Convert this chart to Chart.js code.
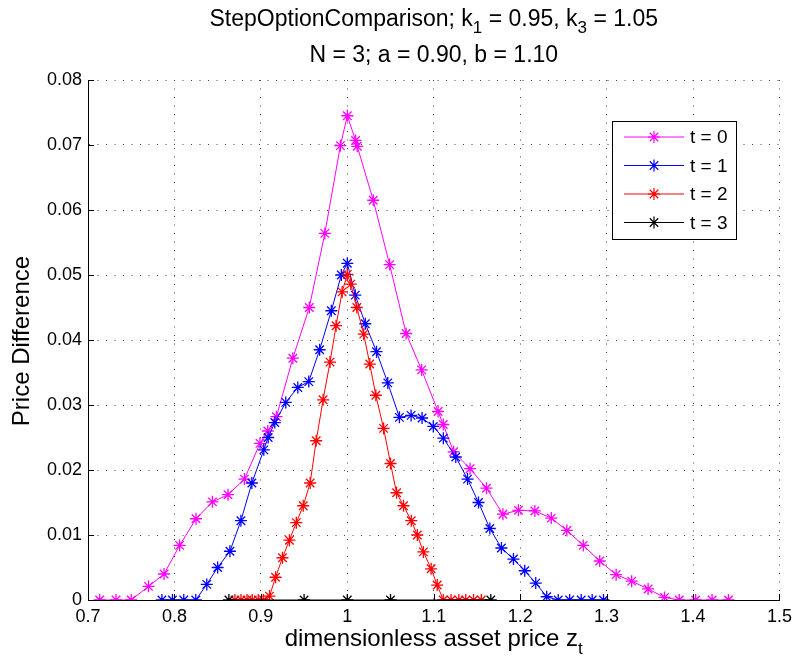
<!DOCTYPE html>
<html>
<head>
<meta charset="utf-8">
<script src="https://cdn.jsdelivr.net/npm/chart.js@4.4.1/dist/chart.umd.min.js"></script>
<style>
html,body{margin:0;padding:0;background:#fff;}
#wrap{width:798px;height:661px;position:relative;}
</style>
</head>
<body>
<div id="wrap"><canvas id="c" width="798" height="661"></canvas></div>
<script>
// ---- data ----
const seriesLabels = ['t = 0', 't = 1', 't = 2', 't = 3'];
const x0 = [0.7135,0.7324,0.750,0.770,0.788,0.806,0.825,0.844,0.862,0.881,0.899,0.908,0.918,0.937,0.956,0.974,0.992,1.0,1.0096,1.0115,1.030,1.049,1.068,1.086,1.105,1.111,1.123,1.142,1.161,1.180,1.198,1.217,1.236,1.254,1.273,1.292,1.311,1.329,1.348,1.367,1.384,1.403,1.422,1.441];
const y0 = [0,0,0,0.0021,0.0040,0.0084,0.0125,0.0151,0.0162,0.0186,0.0241,0.0260,0.0282,0.0372,0.0450,0.0564,0.0699,0.0745,0.0707,0.0698,0.0615,0.0516,0.0410,0.0354,0.0290,0.0270,0.0228,0.0202,0.0172,0.0132,0.0138,0.0137,0.0126,0.0107,0.0084,0.0060,0.0039,0.0029,0.0017,0.0004,0,0,0,0];
const x1 = [0.7855,0.7977,0.8108,0.8247,0.8374,0.850,0.8642,0.8769,0.8896,0.9034,0.9084,0.9161,0.9288,0.9427,0.9554,0.968,0.9815,0.9931,1.0,1.0092,1.0208,1.0338,1.0468,1.0603,1.0738,1.0865,1.0995,1.1111,1.1255,1.1391,1.1518,1.1649,1.1783,1.1922,1.2053,1.218,1.2307,1.244,1.2572,1.2706,1.2833,1.2964];
const y1 = [0,0,0,0,0.0024,0.0050,0.0075,0.0122,0.0180,0.0231,0.0250,0.0273,0.0304,0.0327,0.0336,0.0385,0.0445,0.0500,0.0518,0.0469,0.0425,0.0382,0.0334,0.0281,0.0284,0.0280,0.0267,0.0249,0.0220,0.0186,0.0150,0.0110,0.0080,0.0063,0.0045,0.0026,0.0005,0,0,0,0,0];
const x2 = [0.870,0.877,0.884,0.890,0.897,0.903,0.910,0.917,0.925,0.933,0.941,0.949,0.957,0.964,0.972,0.980,0.987,0.994,1.000,1.004,1.011,1.019,1.026,1.033,1.042,1.050,1.057,1.065,1.074,1.081,1.088,1.097,1.104,1.111,1.120,1.129,1.137,1.146,1.155];
const y2 = [0,0,0,0,0,0,0.0006,0.0035,0.0065,0.0092,0.0119,0.0145,0.0180,0.0245,0.0308,0.0366,0.0422,0.0474,0.0501,0.0486,0.0450,0.0409,0.0363,0.0315,0.0264,0.0210,0.0165,0.0145,0.0122,0.0100,0.0074,0.0048,0.0023,0,0,0,0,0,0];
const x3 = [0.863,0.95,1.0,1.05,1.166];
const y3 = [0,0,0,0,0];
const xTicks = [0.7,0.8,0.9,1.0,1.1,1.2,1.3,1.4,1.5];
const xTickLabels = ['0.7','0.8','0.9','1','1.1','1.2','1.3','1.4','1.5'];
const yTicks = [0,0.01,0.02,0.03,0.04,0.05,0.06,0.07,0.08];
const yTickLabels = ['0','0.01','0.02','0.03','0.04','0.05','0.06','0.07','0.08'];
const colors = ['#ff00ff','#0000ff','#ff0000','#000000'];
const titleLine1 = [['StepOptionComparison; k',0],['1',1],[' = 0.95, k',0],['3',1],[' = 1.05',0]];
const titleLine2 = [['N = 3; a = 0.90, b = 1.10',0]];
const yTitle = 'Price Difference';
const xTitle = [['dimensionless asset price z',0],['t',1]];

const FONT = '"Liberation Sans", Arial, Helvetica, sans-serif';
const xs = [x0,x1,x2,x3], ys = [y0,y1,y2,y3];
const datasets = xs.map((xa,i)=>({
  label: seriesLabels[i],
  data: xa.map((v,j)=>({x:v,y:ys[i][j]})),
  showLine: true,
  borderColor: colors[i],
  backgroundColor: colors[i],
  borderWidth: 1,
  pointStyle: 'star',
  pointRadius: 6,
  pointBorderWidth: 1.3,
  pointBorderColor: colors[i],
  order: 4 - i,
  tension: 0
}));

function drawRich(ctx, parts, cx, baseY, size){
  const subSize = Math.round(size*0.72);
  let w = 0;
  parts.forEach(p=>{ ctx.font=(p[1]?subSize:size)+'px '+FONT; w += ctx.measureText(p[0]).width; });
  let x = cx - w/2;
  ctx.textAlign='left'; ctx.textBaseline='alphabetic';
  parts.forEach(p=>{
    ctx.font=(p[1]?subSize:size)+'px '+FONT;
    ctx.fillText(p[0], x, baseY + (p[1]? size*0.32:0));
    x += ctx.measureText(p[0]).width;
  });
}

const decor = {
  id:'decor',
  afterDraw(chart){
    const ctx = chart.ctx, a = chart.chartArea;
    const sx = chart.scales.x, sy = chart.scales.y;
    ctx.save();
    // inward ticks
    ctx.strokeStyle='#000'; ctx.lineWidth=1;
    xTicks.forEach(v=>{ const px=Math.round(sx.getPixelForValue(v))+0.5; ctx.beginPath(); ctx.moveTo(px,a.bottom); ctx.lineTo(px,a.bottom-6); ctx.stroke(); });
    yTicks.forEach(v=>{ const py=Math.round(sy.getPixelForValue(v))+0.5; ctx.beginPath(); ctx.moveTo(a.left,py); ctx.lineTo(a.left+6,py); ctx.stroke(); });
    // titles
    ctx.fillStyle='#000';
    const cx = (a.left+a.right)/2;
    drawRich(ctx, titleLine1, cx, 26, 23);
    drawRich(ctx, titleLine2, cx, 62, 23);
    drawRich(ctx, xTitle, cx, 646, 24);
    ctx.save();
    ctx.translate(29, (a.top+a.bottom)/2+1);
    ctx.rotate(-Math.PI/2);
    drawRich(ctx, [[yTitle,0]], 0, 0, 24);
    ctx.restore();
    // legend
    const L=612, T=121, W=124, H=118;
    ctx.fillStyle='#fff'; ctx.fillRect(L,T,W,H);
    ctx.strokeStyle='#000'; ctx.lineWidth=1; ctx.strokeRect(L+0.5,T+0.5,W,H);
    seriesLabels.forEach((lab,i)=>{
      const yy = T + 16 + i*28.5;
      ctx.strokeStyle=colors[i]; ctx.lineWidth=1;
      ctx.beginPath(); ctx.moveTo(624,yy); ctx.lineTo(684,yy); ctx.stroke();
      const r=6, cxp=654;
      ctx.lineWidth=1.2;
      ctx.beginPath();
      for(let k=0;k<4;k++){ const ang=k*Math.PI/4; ctx.moveTo(cxp+r*Math.cos(ang),yy+r*Math.sin(ang)); ctx.lineTo(cxp-r*Math.cos(ang),yy-r*Math.sin(ang)); }
      ctx.stroke();
      ctx.fillStyle='#000'; ctx.font='19px '+FONT; ctx.textAlign='left'; ctx.textBaseline='middle';
      ctx.fillText(lab, 690, yy+1);
    });
    ctx.restore();
  }
};

new Chart(document.getElementById('c'), {
  type:'scatter',
  data:{datasets},
  options:{
    responsive:false, animation:false, devicePixelRatio:1,
    layout:{padding:{left:0,top:80,right:17,bottom:0}},
    plugins:{legend:{display:false}, title:{display:false}, tooltip:{enabled:false}},
    scales:{
      x:{
        type:'linear', min:0.7, max:1.5,
        afterBuildTicks(s){ s.ticks = xTicks.map(v=>({value:v})); },
        afterFit(s){ s.height = 61; },
        ticks:{ callback:(v,i)=>xTickLabels[i], color:'#000', font:{family:FONT,size:18}, padding:6, maxRotation:0, autoSkip:false },
        grid:{ color:'#444', lineWidth:1, drawTicks:false },
        border:{ display:true, color:'#000', width:1, dash:[1,7.5] }
      },
      y:{
        type:'linear', min:0, max:0.08,
        afterBuildTicks(s){ s.ticks = yTicks.map(v=>({value:v})); },
        afterFit(s){ s.width = 88; },
        ticks:{ callback:(v,i)=>yTickLabels[i], color:'#000', font:{family:FONT,size:18}, padding:6 },
        grid:{ color:'#444', lineWidth:1, drawTicks:false },
        border:{ display:true, color:'#000', width:1, dash:[1,7.5] }
      }
    }
  },
  plugins:[decor]
});
</script>
</body>
</html>
